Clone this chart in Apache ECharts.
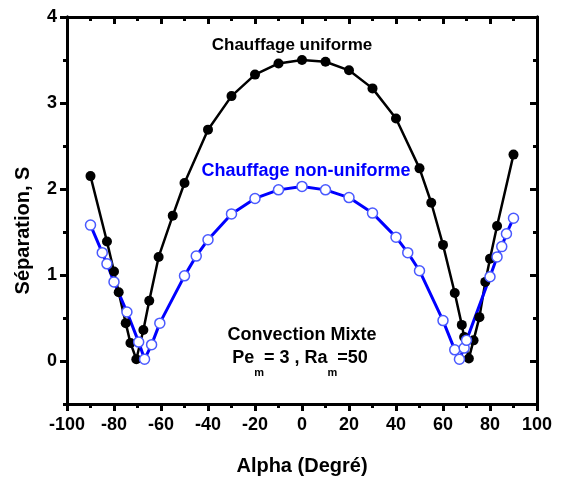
<!DOCTYPE html>
<html>
<head>
<meta charset="utf-8">
<script src="https://cdn.jsdelivr.net/npm/echarts@6/dist/echarts.min.js"></script>
<style>
html,body{margin:0;padding:0;background:#fff;}
#chart{width:561px;height:484px;}
</style>
</head>
<body>
<div id="chart"></div>
<script>
// Data
const alphaUniform = [-90, -83, -80, -78, -75, -73, -70.5, -67.5, -65, -61, -55, -50, -40, -30, -20, -10, 0, 10, 20, 30, 40, 50, 55, 60, 65, 68, 69, 71, 73, 75.5, 78, 80, 83, 90];
const sepUniform   = [2.15, 1.39, 1.04, 0.80, 0.44, 0.21, 0.02, 0.36, 0.70, 1.21, 1.69, 2.07, 2.69, 3.08, 3.33, 3.46, 3.50, 3.48, 3.38, 3.17, 2.82, 2.24, 1.84, 1.35, 0.79, 0.42, 0.28, 0.03, 0.24, 0.51, 0.92, 1.19, 1.57, 2.40];

const alphaNonUniform = [-90, -85, -83, -80, -74.5, -69.5, -67, -64, -60.5, -50, -45, -40, -30, -20, -10, 0, 10, 20, 30, 40, 45, 50, 60, 65, 67, 69, 70, 80, 83, 85, 87, 90];
const sepNonUniform   = [1.58, 1.26, 1.13, 0.92, 0.57, 0.22, 0.02, 0.19, 0.44, 0.99, 1.22, 1.41, 1.71, 1.89, 1.99, 2.03, 1.99, 1.90, 1.72, 1.44, 1.26, 1.05, 0.47, 0.13, 0.02, 0.15, 0.24, 0.98, 1.21, 1.33, 1.48, 1.66];

const yMajorTicks = [0, 1, 2, 3, 4];

const seriesNames = ['Chauffage uniforme', 'Chauffage non-uniforme'];
const xAxisTitle = 'Alpha (Degré)';
const yAxisTitle = 'Séparation, S';
const noteLine1 = 'Convection Mixte';

const FONT = '"Liberation Sans", Arial, Helvetica, sans-serif';
const pairs = (xs, ys) => xs.map((x, i) => [x, ys[i]]);

const lineCol = {color: '#000', width: 3};
const tickCol = {color: '#000', width: 3};
const labelStyle = {fontSize: 18, fontWeight: 'bold', color: '#000', fontFamily: FONT};

function xAx(pos, main) {
  return {
    type: 'value', min: -100, max: 100, interval: 20, position: pos,
    axisLine: {show: true, onZero: false, lineStyle: lineCol},
    axisTick: {show: true, inside: !main, length: 7, lineStyle: tickCol},
    minorTick: {show: true, splitNumber: 2, length: 4, lineStyle: tickCol},
    splitLine: {show: false}, minorSplitLine: {show: false},
    axisLabel: main ? Object.assign({show: true, margin: 12}, labelStyle) : {show: false},
    name: main ? xAxisTitle : '',
    nameLocation: 'middle', nameGap: 52,
    nameTextStyle: {fontSize: 20, fontWeight: 'bold', color: '#000', fontFamily: FONT}
  };
}
function yMinor(pos, inside) {
  return {
    type: 'value', min: -0.5, max: 4, interval: 0.5, position: pos,
    axisLine: {show: true, onZero: false, lineStyle: lineCol},
    axisTick: {show: true, inside: inside, length: 4, lineStyle: tickCol},
    splitLine: {show: false},
    axisLabel: {show: false}
  };
}
function yMajor(pos, inside, main) {
  return {
    type: 'value', min: -0.5, max: 4, interval: 0.5, position: pos,
    axisLine: {show: true, onZero: false, lineStyle: lineCol},
    axisTick: {show: true, inside: inside, length: 7, lineStyle: tickCol, customValues: yMajorTicks},
    splitLine: {show: false},
    axisLabel: main ? Object.assign({show: true, margin: 10, customValues: yMajorTicks}, labelStyle) : {show: false},
    name: main ? yAxisTitle : '',
    nameLocation: 'middle', nameGap: 34, nameRotate: 90,
    nameTextStyle: {fontSize: 20, fontWeight: 'bold', color: '#000', fontFamily: FONT, padding: [0, 40, 0, 0]}
  };
}

const chart = echarts.init(document.getElementById('chart'), null, {renderer: 'canvas'});
chart.setOption({
  animation: false,
  backgroundColor: '#fff',
  grid: {left: 67, right: 24, top: 17, bottom: 80, containLabel: false},
  xAxis: [xAx('bottom', true), xAx('top', false)],
  yAxis: [yMinor('left', false), yMajor('left', false, true), yMinor('right', true), yMajor('right', true, false)],
  series: [
    {
      name: seriesNames[0], type: 'line', xAxisIndex: 0, yAxisIndex: 0,
      data: pairs(alphaUniform, sepUniform),
      symbol: 'circle', symbolSize: 10, showAllSymbol: true,
      lineStyle: {color: '#000', width: 2.5},
      itemStyle: {color: '#000', borderColor: '#000', borderWidth: 0}
    },
    {
      name: seriesNames[1], type: 'line', xAxisIndex: 0, yAxisIndex: 0,
      data: pairs(alphaNonUniform, sepNonUniform),
      symbol: 'circle', symbolSize: 10, showAllSymbol: true,
      lineStyle: {color: '#0000ff', width: 3},
      itemStyle: {color: '#fff', borderColor: '#4a5aff', borderWidth: 1.5}
    }
  ],
  graphic: [
    {type: 'text', x: 292, y: 45, style: {text: seriesNames[0], fill: '#000', font: 'bold 17px ' + FONT, align: 'center', verticalAlign: 'middle'}},
    {type: 'text', x: 306, y: 171, style: {text: seriesNames[1], fill: '#0000ff', font: 'bold 18px ' + FONT, align: 'center', verticalAlign: 'middle'}},
    {type: 'text', x: 302, y: 335, style: {text: noteLine1, fill: '#000', font: 'bold 18px ' + FONT, align: 'center', verticalAlign: 'middle'}},
    {type: 'text', x: 300, y: 358, style: {
      text: '{b|Pe}{s|m}{b|= 3 , Ra}{s|m}{b|=50}',
      align: 'center', verticalAlign: 'middle',
      rich: {
        b: {fontSize: 18, fontWeight: 'bold', fontFamily: FONT, fill: '#000', lineHeight: 40},
        s: {fontSize: 11, fontWeight: 'bold', fontFamily: FONT, fill: '#000', lineHeight: 12, verticalAlign: 'bottom'}
      }
    }}
  ]
});
</script>
</body>
</html>
